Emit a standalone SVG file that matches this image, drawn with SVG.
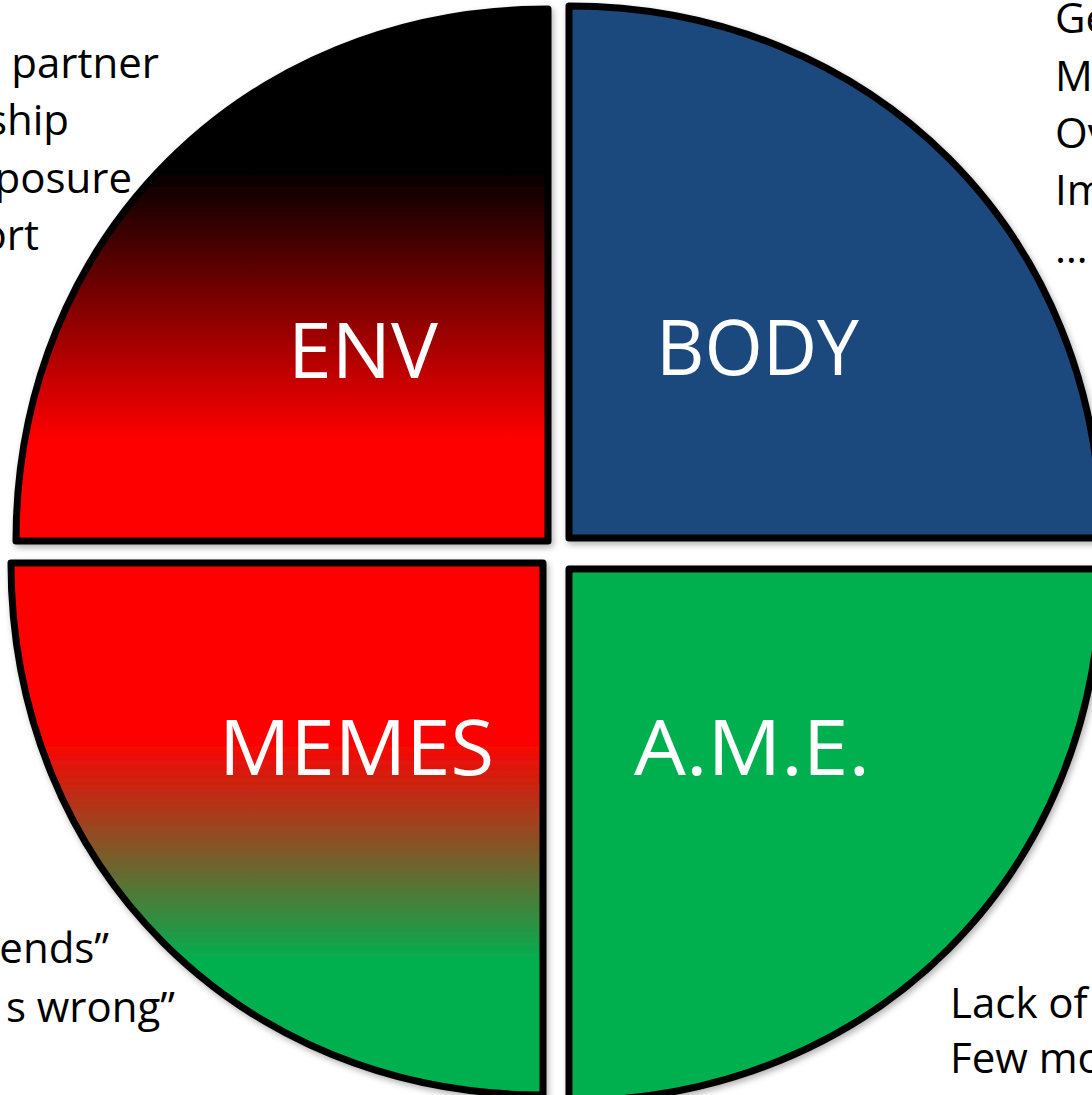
<svg xmlns="http://www.w3.org/2000/svg" width="1092" height="1095" viewBox="0 0 1092 1095">
  <style>
    .quad { stroke: #000; stroke-width: 7; stroke-linejoin: round; filter: url(#shadow); }
    .label { font-family: "Open Sans", "Liberation Sans", sans-serif; font-size: 76px; fill: #fff; }
    .note { font-family: "Open Sans", "Liberation Sans", sans-serif; font-size: 42px; fill: #000; }
  </style>
  <defs>
    <filter id="shadow" x="-5%" y="-5%" width="110%" height="110%">
      <feDropShadow dx="2" dy="3" stdDeviation="3" flood-color="#000" flood-opacity="0.3"/>
    </filter>
    <linearGradient id="envFill" gradientUnits="userSpaceOnUse" x1="0" y1="9" x2="0" y2="541">
      <stop offset="0" stop-color="#000"/>
      <stop offset="0.3" stop-color="#000"/>
      <stop offset="0.81" stop-color="#f00"/>
      <stop offset="1" stop-color="#f00"/>
    </linearGradient>
    <linearGradient id="memesFill" gradientUnits="userSpaceOnUse" x1="0" y1="563" x2="0" y2="1095">
      <stop offset="0" stop-color="#f00"/>
      <stop offset="0.33" stop-color="#f00"/>
      <stop offset="0.75" stop-color="#00b050"/>
      <stop offset="1" stop-color="#00b050"/>
    </linearGradient>
  </defs>

  <rect width="1092" height="1095" fill="#fff"/>

  <!-- four quadrants of the circle, pulled slightly apart -->
  <g id="env">
    <path class="quad" fill="url(#envFill)" d="M548,541 L16,541 C16,237.8 244.8,9 548,9 Z"/>
    <text class="label" x="288" y="378" textLength="150" lengthAdjust="spacingAndGlyphs">ENV</text>
  </g>
  <g id="body">
    <path class="quad" fill="#1f497d" d="M569,538 L569,6 C872.2,6 1101,234.8 1101,538 Z"/>
    <text class="label" x="656" y="375" textLength="203" lengthAdjust="spacingAndGlyphs">BODY</text>
  </g>
  <g id="memes">
    <path class="quad" fill="url(#memesFill)" d="M543,563 L543,1095 C239.8,1095 11,866.2 11,563 Z"/>
    <text class="label" x="219" y="775" textLength="275" lengthAdjust="spacingAndGlyphs">MEMES</text>
  </g>
  <g id="ame">
    <path class="quad" fill="#00b050" d="M569,569 L1101,569 C1101,872.2 872.2,1101 569,1101 Z"/>
    <text class="label" x="634" y="775" textLength="236" lengthAdjust="spacingAndGlyphs">A.M.E.</text>
  </g>

  <!-- side notes -->
  <g id="notes-env" class="note" text-anchor="end">
    <text x="159" y="78">partner</text>
    <text x="69" y="135">ship</text>
    <text x="132" y="193">posure</text>
    <text x="39" y="250">ort</text>
  </g>
  <g id="notes-body" class="note">
    <text x="1055" y="33">Ge</text>
    <text x="1055" y="91">M</text>
    <text x="1055" y="148">Ov</text>
    <text x="1055" y="205">Im</text>
    <text x="1055" y="263">…</text>
  </g>
  <g id="notes-memes" class="note" text-anchor="end">
    <text x="109" y="963">ends”</text>
    <text x="175" y="1022">s wrong”</text>
  </g>
  <g id="notes-ame" class="note">
    <text x="950" y="1018">Lack of</text>
    <text x="950" y="1073">Few mo</text>
  </g>

  <g id="connectors"/>
</svg>
